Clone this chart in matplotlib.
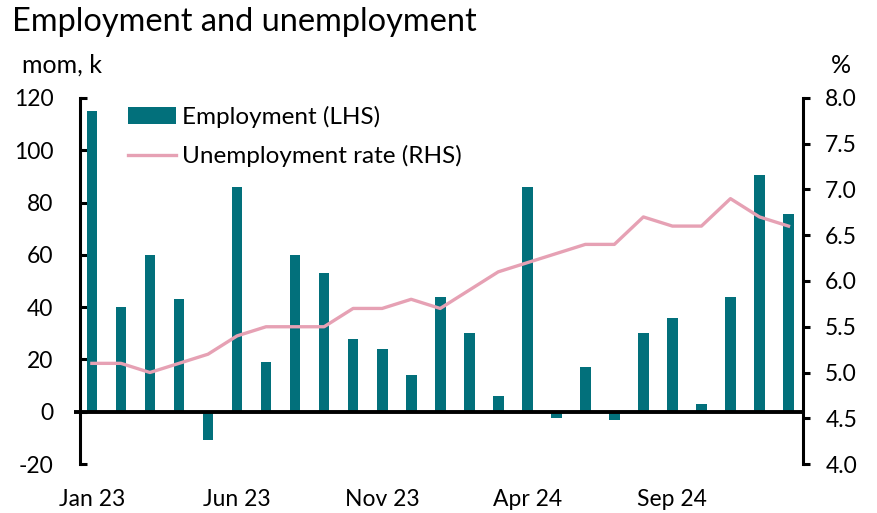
import matplotlib.pyplot as plt
import numpy as np

months = ["Jan 23", "Feb 23", "Mar 23", "Apr 23", "May 23", "Jun 23", "Jul 23",
          "Aug 23", "Sep 23", "Oct 23", "Nov 23", "Dec 23", "Jan 24", "Feb 24",
          "Mar 24", "Apr 24", "May 24", "Jun 24", "Jul 24", "Aug 24", "Sep 24",
          "Oct 24", "Nov 24", "Dec 24", "Jan 25"]
employment = [115, 40, 60, 43, -11, 86, 19, 60, 53, 28, 24, 14, 44, 30, 6,
              86, -2.5, 17, -3, 30, 36, 3, 44, 90.5, 75.5]
unemployment = [5.1, 5.1, 5.0, 5.1, 5.2, 5.4, 5.5, 5.5, 5.5, 5.7, 5.7, 5.8,
                5.7, 5.9, 6.1, 6.2, 6.3, 6.4, 6.4, 6.7, 6.6, 6.6, 6.9, 6.7, 6.6]

plt.rcParams['font.family'] = ['Lato', 'DejaVu Sans']
plt.rcParams['axes.unicode_minus'] = False

teal = "#02707b"
pink = "#e6a1b4"

fig = plt.figure(figsize=(8.78, 5.13), dpi=100)
ax = fig.add_axes([0.0911, 0.0955, 0.8235, 0.7135])
ax2 = ax.twinx()

x = np.arange(len(months))
ax.bar(x, employment, width=0.37, color=teal, label="Employment (LHS)", zorder=2)
ax2.plot(x, unemployment, color=pink, lw=2.4, label="Unemployment rate (RHS)")

ax.set_xlim(-0.41, 24.5)
ax.set_ylim(-20, 120)
ax.set_yticks(range(-20, 121, 20))
ax2.set_ylim(4.0, 8.0)
ax2.set_yticks(np.arange(4.0, 8.01, 0.5))
ax2.set_yticklabels([f"{v:.1f}" for v in np.arange(4.0, 8.01, 0.5)])

ax.set_xticks(x[::5])
ax.set_xticklabels(months[::5])
ax.tick_params(axis='x', length=0, pad=18, labelsize=16.5)
ax.tick_params(axis='y', direction='in', length=5, width=2.2, labelsize=16.5, pad=19)
ax2.tick_params(axis='y', direction='out', length=5, width=2.2, labelsize=16.5, pad=11)

for a in (ax, ax2):
    for s in ('top', 'bottom'):
        a.spines[s].set_visible(False)
    a.spines['left'].set_linewidth(2.2)
    a.spines['right'].set_linewidth(2.2)
ax.spines['right'].set_visible(False)
ax2.spines['left'].set_visible(False)
# zero line, poking slightly past the left axis
ax.plot([-0.6, 24.5], [0, 0], color='black', lw=2.8, zorder=3, clip_on=False,
        solid_capstyle='butt')

h1, l1 = ax.get_legend_handles_labels()
h2, l2 = ax2.get_legend_handles_labels()
ax.legend(h1 + h2, l1 + l2, loc='upper left', bbox_to_anchor=(0.066, 0.978),
          frameon=False, fontsize=17.5, handlelength=2.0, handletextpad=0.25,
          labelspacing=0.7, borderpad=0, borderaxespad=0)

fig.text(0.014, 0.958, "Employment and unemployment", fontsize=23.4, va='center')
fig.text(0.025, 0.873, "mom, k", fontsize=18, va='center')
fig.text(0.958, 0.873, "%", fontsize=18, va='center', ha='center')

fig.savefig("out.png", dpi=100)
